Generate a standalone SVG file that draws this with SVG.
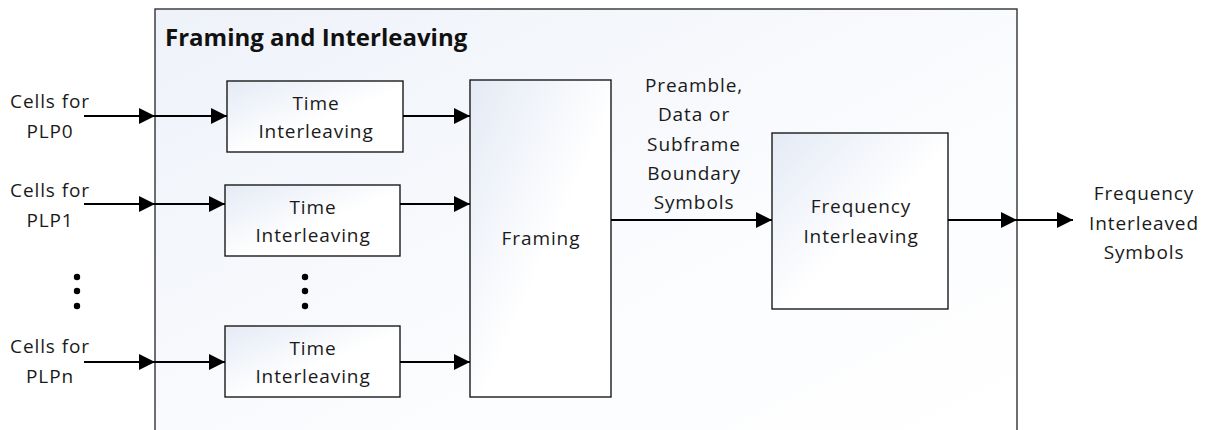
<svg xmlns="http://www.w3.org/2000/svg" width="1210" height="430" viewBox="0 0 1210 430">
<defs>
<linearGradient id="gBox" x1="0" y1="0" x2="1" y2="1">
<stop offset="0" stop-color="#e4eaf5"/>
<stop offset="0.55" stop-color="#ffffff"/>
<stop offset="1" stop-color="#ffffff"/>
</linearGradient>
<linearGradient id="gOuter" x1="0" y1="0" x2="1" y2="1">
<stop offset="0" stop-color="#eef2f9"/>
<stop offset="0.6" stop-color="#fbfcfe"/>
<stop offset="1" stop-color="#ffffff"/>
</linearGradient>
<marker id="arr" markerUnits="userSpaceOnUse" markerWidth="17" markerHeight="17" refX="16" refY="8" orient="auto">
<path d="M0,0 L16,8 L0,16 z" fill="#000"/>
</marker>
<style>
.box{fill:url(#gBox);stroke:#1a1a1a;stroke-width:1.4}
.t{font-family:"Open Sans","Liberation Sans",sans-serif;font-size:19px;letter-spacing:0.9px;fill:#1a1a1a;text-anchor:middle}
.title{font-family:"Open Sans","Liberation Sans",sans-serif;font-size:24px;font-weight:bold;fill:#111}
.c{stroke:#000;stroke-width:2;fill:none;marker-end:url(#arr)}
.dot{fill:#000}
</style>
</defs>
<g id="outer">
<rect x="155" y="9" width="862" height="440" fill="url(#gOuter)" stroke="#333" stroke-width="1.4"/>
<text class="title" x="165" y="46">Framing and Interleaving</text>
</g>
<g id="ti0">
<rect class="box" x="227" y="81" width="176" height="71"/>
<text class="t" x="316" y="110">Time</text>
<text class="t" x="316" y="138">Interleaving</text>
</g>
<g id="ti1">
<rect class="box" x="225" y="185" width="175" height="71"/>
<text class="t" x="313" y="214">Time</text>
<text class="t" x="313" y="242">Interleaving</text>
</g>
<g id="tin">
<rect class="box" x="225" y="326" width="175" height="71"/>
<text class="t" x="313" y="355">Time</text>
<text class="t" x="313" y="383">Interleaving</text>
</g>
<g id="framing">
<rect class="box" x="470" y="80" width="141" height="317"/>
<text class="t" x="541" y="245">Framing</text>
</g>
<g id="freq">
<rect class="box" x="772" y="133" width="176" height="176"/>
<text class="t" x="861" y="213">Frequency</text>
<text class="t" x="861" y="243">Interleaving</text>
</g>
<g id="inputs">
<text class="t" x="50" y="108">Cells for</text>
<text class="t" x="50" y="138">PLP0</text>
<text class="t" x="50" y="197">Cells for</text>
<text class="t" x="50" y="227">PLP1</text>
<text class="t" x="50" y="353">Cells for</text>
<text class="t" x="50" y="383">PLPn</text>
<circle class="dot" cx="77" cy="277" r="3.2"/>
<circle class="dot" cx="77" cy="291" r="3.2"/>
<circle class="dot" cx="77" cy="306" r="3.2"/>
<circle class="dot" cx="305" cy="277" r="3.2"/>
<circle class="dot" cx="305" cy="291" r="3.2"/>
<circle class="dot" cx="305" cy="306" r="3.2"/>
</g>
<g id="labels">
<text class="t" x="694" y="92">Preamble,</text>
<text class="t" x="694" y="121">Data or</text>
<text class="t" x="694" y="151">Subframe</text>
<text class="t" x="694" y="180">Boundary</text>
<text class="t" x="694" y="209">Symbols</text>
<text class="t" x="1144" y="200">Frequency</text>
<text class="t" x="1144" y="230">Interleaved</text>
<text class="t" x="1144" y="259">Symbols</text>
</g>
<g id="connectors">
<line class="c" x1="84" y1="116" x2="155" y2="116"/>
<line class="c" x1="155" y1="116" x2="227" y2="116"/>
<line class="c" x1="403" y1="116" x2="470" y2="116"/>
<line class="c" x1="84" y1="204" x2="155" y2="204"/>
<line class="c" x1="155" y1="204" x2="225" y2="204"/>
<line class="c" x1="400" y1="204" x2="470" y2="204"/>
<line class="c" x1="84" y1="362" x2="155" y2="362"/>
<line class="c" x1="155" y1="362" x2="225" y2="362"/>
<line class="c" x1="400" y1="362" x2="470" y2="362"/>
<line class="c" x1="611" y1="220" x2="772" y2="220"/>
<line class="c" x1="948" y1="220" x2="1017" y2="220"/>
<line class="c" x1="1017" y1="220" x2="1073" y2="220"/>
</g>
</svg>
